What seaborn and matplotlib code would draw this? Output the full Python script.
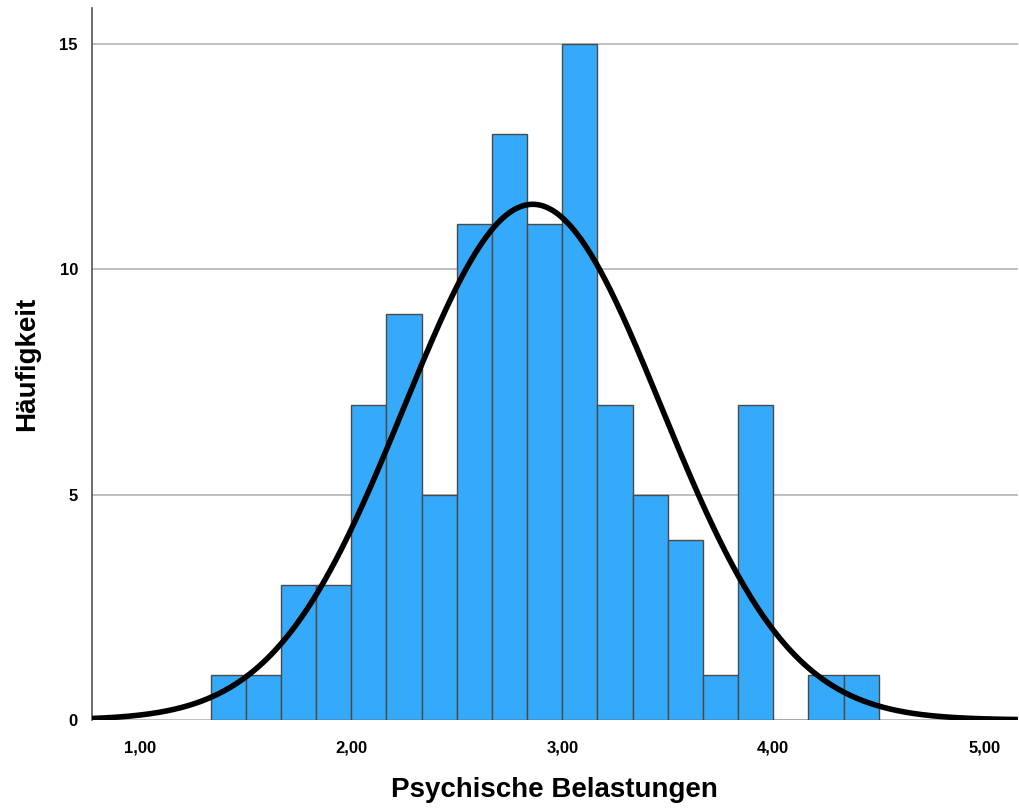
import numpy as np
import pandas as pd
import matplotlib
matplotlib.use("Agg")
import matplotlib.pyplot as plt
import seaborn as sns

# Bin edges (width 1/6) and counts
bin_start = 4 / 3
bin_width = 1 / 6
counts = [1, 1, 3, 3, 7, 9, 5, 11, 13, 11, 15, 7, 5, 4, 1, 7, 0, 1, 1]
x_ticks = [1.0, 2.0, 3.0, 4.0, 5.0]
x_tick_labels = ["1,00", "2,00", "3,00", "4,00", "5,00"]
y_ticks = [0, 5, 10, 15]
y_tick_labels = ["0", "5", "10", "15"]
# Normal curve parameters
curve_mean = 2.86
curve_sd = 0.61

bin_end = bin_start + bin_width * len(counts)
mids = bin_start + bin_width * (np.arange(len(counts)) + 0.5)
df = pd.DataFrame({"x": mids, "n": counts})
N = sum(counts)

sns.set_style("white")
plt.rcParams["font.family"] = ["Liberation Sans", "DejaVu Sans"]
plt.rcParams["text.color"] = "black"
plt.rcParams["axes.labelcolor"] = "black"
plt.rcParams["xtick.color"] = "black"
plt.rcParams["ytick.color"] = "black"

fig = plt.figure(figsize=(10.2, 8.08), dpi=100)
ax = fig.add_axes([0.090, 0.109, 0.908, 0.881])

ax.set_axisbelow(True)
for yt in y_ticks:
    ax.axhline(yt, color="#b4b4b4", lw=1.2, zorder=0)

sns.histplot(data=df, x="x", weights="n", binwidth=bin_width,
             binrange=(bin_start, bin_end), ax=ax,
             color="#35a9fa", alpha=1, edgecolor="#4a4a4a", linewidth=1.0,
             zorder=2)

xs = np.linspace(0.77, 5.16, 600)
ys = N * bin_width * np.exp(-0.5 * ((xs - curve_mean) / curve_sd) ** 2) / (curve_sd * np.sqrt(2 * np.pi))
sns.lineplot(x=xs, y=ys, ax=ax, color="black", lw=4, zorder=3)

ax.set_xlim(0.77, 5.16)
ax.set_ylim(0, 15.8)
ax.set_xticks(x_ticks)
ax.set_xticklabels(x_tick_labels, fontsize=12, fontweight="bold")
ax.set_yticks(y_ticks)
ax.set_yticklabels(y_tick_labels, fontsize=12, fontweight="bold")
ax.tick_params(axis="x", length=0, pad=15)
ax.tick_params(axis="y", length=0, pad=10)

for s in ["top", "right", "bottom"]:
    ax.spines[s].set_visible(False)
ax.spines["left"].set_color("#555555")
ax.spines["left"].set_linewidth(1.2)

ax.set_xlabel("Psychische Belastungen", fontsize=20, fontweight="bold", labelpad=15)
ax.set_ylabel("Häufigkeit", fontsize=20, fontweight="bold", labelpad=14)

fig.savefig("out.png", dpi=100)
